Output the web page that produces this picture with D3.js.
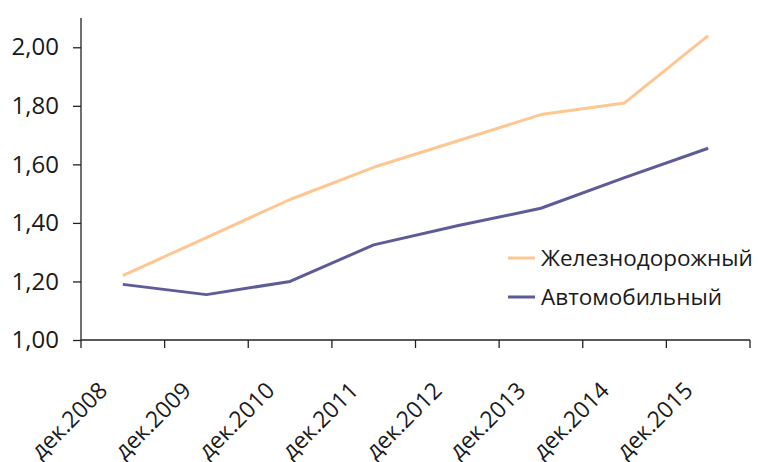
<!DOCTYPE html>
<html>
<head>
<meta charset="utf-8">
<script src="https://cdn.jsdelivr.net/npm/d3@7"></script>
<style>
  body { margin: 0; background: #fff; }
  svg { display: block; }
  text { font-family: "Open Sans", "Noto Sans", sans-serif; fill: #1a1a1a; }
</style>
</head>
<body>
<svg id="chart" width="760" height="462"></svg>
<script>
// Categories and series values
const categories = ["дек.2008", "дек.2009", "дек.2010", "дек.2011", "дек.2012", "дек.2013", "дек.2014", "дек.2015"];
const railValues = [1.22, 1.35, 1.48, 1.59, 1.68, 1.77, 1.81, 2.04];
const autoValues = [1.19, 1.155, 1.20, 1.325, 1.39, 1.45, 1.555, 1.655];
const yTicks = [1.0, 1.2, 1.4, 1.6, 1.8, 2.0];
const seriesNames = ["Железнодорожный", "Автомобильный"];
const seriesColors = ["#fec690", "#5d5c98"];

const svg = d3.select("#chart");
const plot = { left: 81, right: 750, top: 18, bottom: 340 };

const x = d3.scaleBand().domain(categories).range([plot.left, plot.right]).padding(0);
const y = d3.scaleLinear().domain([1.0, 2.1]).range([plot.bottom, plot.top]);

const fmt = v => d3.format(".2f")(v).replace(".", ",");

// Y axis
const yAxis = svg.append("g")
  .attr("transform", `translate(${plot.left},0)`)
  .call(d3.axisLeft(y).tickValues(yTicks).tickFormat(fmt).tickSizeOuter(0).tickSize(8).tickPadding(14));
yAxis.select(".domain").attr("stroke", "#222").attr("stroke-width", 1.3).attr("d", `M0,${plot.top}V${plot.bottom}`);
yAxis.selectAll(".tick line").attr("stroke", "#222").attr("stroke-width", 1.3);
yAxis.selectAll(".tick text").style("font-size", "24px").attr("fill", "#1a1a1a");

// X axis with ticks at category boundaries
const xAxis = svg.append("g").attr("transform", `translate(0,${plot.bottom})`);
xAxis.append("line").attr("x1", plot.left).attr("x2", plot.right).attr("stroke", "#222").attr("stroke-width", 1.3);
const bounds = categories.map(c => x(c)).concat([x(categories[categories.length - 1]) + x.bandwidth()]);
xAxis.selectAll("line.tk").data(bounds).enter().append("line").attr("class", "tk")
  .attr("x1", d => d).attr("x2", d => d).attr("y1", 0).attr("y2", 8)
  .attr("stroke", "#222").attr("stroke-width", 1.3);
xAxis.selectAll("text.lbl").data(categories).enter().append("text").attr("class", "lbl")
  .attr("transform", d => `translate(${x(d) + x.bandwidth() / 2 - 14},${52}) rotate(-45)`)
  .attr("text-anchor", "end")
  .style("font-size", "23px")
  .text(d => d);

// Lines
const line = d3.line().x((d, i) => x(categories[i]) + x.bandwidth() / 2).y(d => y(d));
[railValues, autoValues].forEach((vals, k) => {
  svg.append("path").datum(vals)
    .attr("fill", "none")
    .attr("stroke", seriesColors[k])
    .attr("stroke-width", 3)
    .attr("stroke-linejoin", "round")
    .attr("d", line);
});

// Legend
const legend = svg.append("g");
seriesNames.forEach((name, k) => {
  const ly = 258 + k * 39;
  legend.append("line").attr("x1", 508).attr("x2", 535).attr("y1", ly).attr("y2", ly)
    .attr("stroke", seriesColors[k]).attr("stroke-width", 3);
  legend.append("text").attr("x", 541).attr("y", ly).attr("dy", "0.35em")
    .style("font-size", "22.5px").text(name);
});
</script>
</body>
</html>
